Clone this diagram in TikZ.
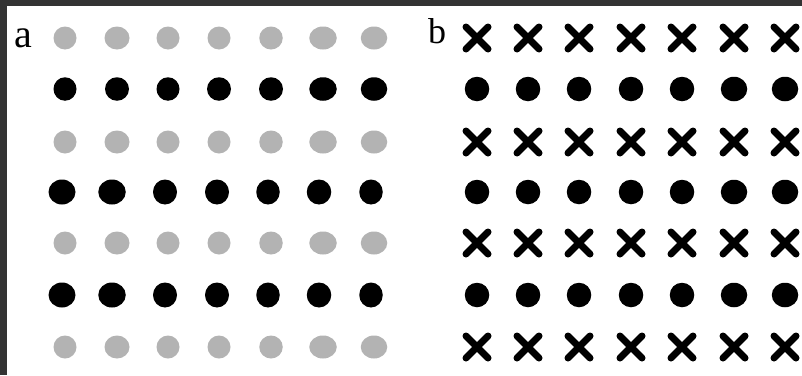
\documentclass[tikz,border=0pt]{standalone}
\usepackage{fontspec}
\setmainfont{Liberation Serif}
\usepackage{xcolor}
\usetikzlibrary{shapes.geometric, shapes.misc}
\definecolor{framegray}{HTML}{333333}
\definecolor{dotgray}{HTML}{B3B3B3}
\tikzset{
  gdot/.style={ellipse, fill=dotgray, inner sep=0pt, outer sep=0pt, minimum width=23pt, minimum height=23pt},
  bdot/.style={ellipse, fill=black, inner sep=0pt, outer sep=0pt, minimum width=24pt, minimum height=23.5pt},
  bigdot/.style={ellipse, fill=black, inner sep=0pt, outer sep=0pt, minimum width=25pt, minimum height=25pt},
  xmark/.style={cross out, draw=black, line width=7pt, line cap=round, inner sep=0pt, minimum size=15pt},
  panel/.style={font=\fontsize{36}{40}\selectfont, inner sep=0pt, anchor=base west}
}

\begin{document}
\begin{tikzpicture}[x=1pt, y=-1pt]
        \useasboundingbox (0,0) rectangle (802,375);
        % Frame
        \fill[framegray] (0,0) rectangle (802,375);
        \fill[white] (7,6) rectangle (802,375);

        % Labels
        \node (la) [panel, font=\fontsize{40}{44}\selectfont] at (14,47) {a};
        \node (lb) [panel] at (428,43) {b};

        % Panel a: grey rows
        \foreach \r/\y in {1/38, 3/142, 5/243, 7/347}
          \foreach \c/\x/\w in {1/65/23, 2/117/25, 3/168/23, 4/219/23, 5/271/23.5, 6/323/27.5, 7/374/26.5}
            \node (a-\r-\c) [gdot, minimum width=\w pt] at (\x,\y) {};

        % Panel a: black rows
        \foreach \c/\x/\w in {1/65/23, 2/117/24, 3/168/23, 4/219/24, 5/271/24, 6/323/27.5, 7/374/26.5}
          \node (a-2-\c) [bdot, minimum width=\w pt] at (\x,89) {};
        \foreach \r/\y in {4/192, 6/295}
          \foreach \c/\x/\w in {1/62/27, 2/112/27.5, 3/165/24, 4/217/24, 5/268/23.5, 6/319/24.5, 7/371/23.5}
            \node (a-\r-\c) [bigdot, minimum width=\w pt] at (\x,\y) {};

        % Panel b: crosses
        \foreach \r/\y in {1/38, 3/142, 5/243, 7/347}
          \foreach \c/\x in {1/477, 2/528, 3/579, 4/631, 5/682, 6/734, 7/785}
            \node (b-\r-\c) [xmark] at (\x,\y) {};

        % Panel b: dots
        \foreach \r/\y in {2/89, 4/192, 6/295}
          \foreach \c/\x/\w in {1/477/24.5, 2/528/24.5, 3/579/24.5, 4/631/24.5, 5/682/24.5, 6/734/26.5, 7/785/26.5}
            \node (b-\r-\c) [bdot, minimum width=\w pt, minimum height=24.5pt] at (\x,\y) {};
\end{tikzpicture}
\end{document}
